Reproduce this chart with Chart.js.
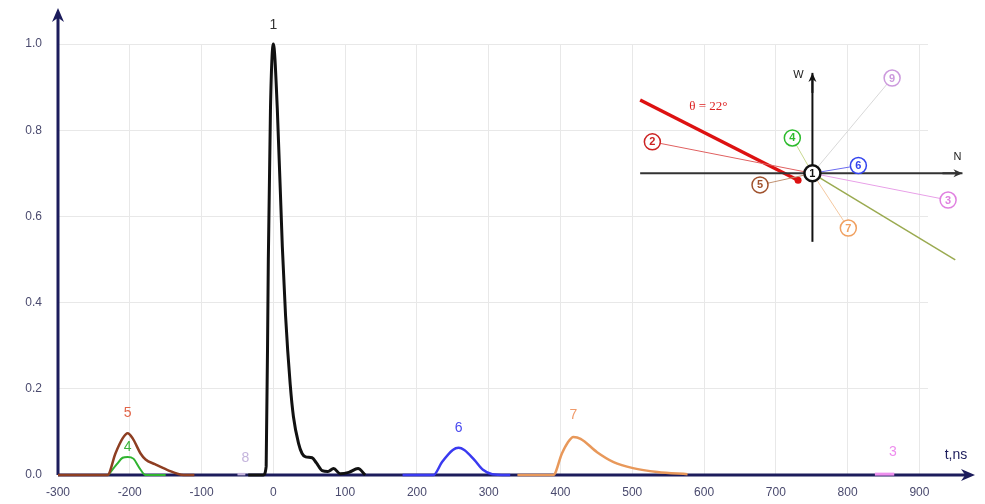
<!DOCTYPE html>
<html>
<head>
<meta charset="utf-8">
<script src="https://cdn.jsdelivr.net/npm/chart.js@4/dist/chart.umd.min.js"></script>
<style>
  html, body { margin: 0; padding: 0; background: #fff; }
  #wrap { width: 985px; height: 504px; }
</style>
</head>
<body>
<div id="wrap"><canvas id="chart"></canvas></div>
<script>
// --- tick values ---
const xTicks = [-300, -200, -100, 0, 100, 200, 300, 400, 500, 600, 700, 800, 900];
const yTicks = [0, 0.2, 0.4, 0.6, 0.8, 1.0];

// --- pulses (t in ns, normalised amplitude) ---
const pulse1T = [-35, -14, -10, -7, -4, 0, 5.5, 12.5, 17, 23.5, 28, 35, 40, 45, 54, 60, 68, 76, 84, 93, 105, 118, 128];
const pulse1V = [0, 0, 0.02, 0.5, 0.85, 1.0, 0.85, 0.53, 0.37, 0.21, 0.135, 0.074, 0.05, 0.042, 0.04, 0.028, 0.01, 0.008, 0.015, 0.003, 0.006, 0.015, 0];

const pulse5T = [-300, -231, -220, -210, -203, -196, -185, -178, -165, -148, -125, -110];
const pulse5V = [0, 0, 0.05, 0.085, 0.097, 0.085, 0.05, 0.036, 0.025, 0.012, 0, 0];

const pulse4T = [-230, -218, -210, -203, -195, -186, -178, -150];
const pulse4V = [0, 0.025, 0.04, 0.042, 0.038, 0.015, 0, 0];

const pulse8T = [-50, -39];
const pulse8V = [0.002, 0.002];

const pulse6T = [180, 223, 235, 250, 258, 266, 280, 292, 305, 330];
const pulse6V = [0, 0, 0.03, 0.058, 0.063, 0.058, 0.035, 0.012, 0.002, 0];

const pulse7T = [340, 390, 402, 410, 418, 428, 451, 474, 501, 535, 577];
const pulse7V = [0, 0, 0.05, 0.075, 0.088, 0.084, 0.053, 0.03, 0.016, 0.007, 0.002];

const pulse3T = [838, 865];
const pulse3V = [0.002, 0.002];

// --- peak labels ---
const peakNames = ['1', '5', '4', '8', '6', '7', '3'];
const peakLabelT = [0, -203, -203, -39, 258, 418, 863];
const peakLabelV = [1.044, 0.144, 0.065, 0.039, 0.109, 0.139, 0.053];
const peakColors = ['#333333', '#e2664a', '#3cb43c', '#c4b4dc', '#4a4af0', '#f09a6a', '#ee8cee'];

// --- inset bearing diagram, placed in the chart's own units ---
const compassT = 751, compassV = 0.70;
const compassAxisT = [511, 960];
const compassAxisV = [0.541, 0.933];
const bearingT = [511, 731];
const bearingV = [0.870, 0.684];
const trendT = [751, 950];
const trendV = [0.70, 0.499];
const stationNames = ['2', '4', '5', '6', '9', '3', '7'];
const stationT = [528, 723, 678, 815, 862, 940, 801];
const stationV = [0.773, 0.782, 0.673, 0.718, 0.921, 0.638, 0.573];
const stationColors = ['#cc2222', '#2dbb2d', '#a0522d', '#3344ee', '#cc99dd', '#e080e0', '#f0a060'];
const stationLineColors = ['#e06060', '#c8d890', '#c09070', '#6a6af0', '#d8d8d8', '#e8a0e8', '#f4c8a0'];

function pts(ts, vs) {
    return ts.map((t, i) => ({ x: t, y: vs[i] }));
}

function curve(ts, vs, color, width) {
    return {
        data: pts(ts, vs),
        borderColor: color,
        borderWidth: width,
        pointRadius: 0,
        cubicInterpolationMode: 'monotone',
        fill: false
    };
}

const datasets = [];

// compass spokes (behind everything in the inset)
stationNames.forEach((name, i) => {
    datasets.push({
        data: [{ x: compassT, y: compassV }, { x: stationT[i], y: stationV[i] }],
        borderColor: stationLineColors[i],
        borderWidth: 1,
        pointRadius: 0
    });
});
datasets.push({
    data: pts(trendT, trendV),
    borderColor: '#9aaa50',
    borderWidth: 1.5,
    pointRadius: 0
});
datasets.push({
    data: [{ x: compassAxisT[0], y: compassV }, { x: compassAxisT[1], y: compassV }],
    borderColor: '#333333',
    borderWidth: 2,
    pointRadius: 0
});
datasets.push({
    data: [{ x: compassT, y: compassAxisV[0] }, { x: compassT, y: compassAxisV[1] }],
    borderColor: '#111111',
    borderWidth: 2,
    pointRadius: 0
});
datasets.push({
    data: pts(bearingT, bearingV),
    borderColor: '#dd1111',
    borderWidth: 3.5,
    pointRadius: [0, 3.5],
    pointBackgroundColor: '#dd1111',
    pointBorderWidth: 0
});

// pulses
datasets.push(curve(pulse5T, pulse5V, '#8e3e22', 2.5));
datasets.push(curve(pulse4T, pulse4V, '#2fb32f', 2));
datasets.push(curve(pulse8T, pulse8V, '#c4b4dc', 2.5));
datasets.push(curve(pulse6T, pulse6V, '#3a3af0', 2.5));
datasets.push(curve(pulse7T, pulse7V, '#e8985a', 2.5));
datasets.push(curve(pulse3T, pulse3V, '#ee90ee', 3));
datasets.push(curve(pulse1T, pulse1V, '#111111', 3));

function arrow(ctx, x1, y1, x2, y2, color, width, len, half) {
    const a = Math.atan2(y2 - y1, x2 - x1);
    ctx.save();
    ctx.strokeStyle = color;
    ctx.fillStyle = color;
    ctx.lineWidth = width;
    ctx.beginPath();
    ctx.moveTo(x1, y1);
    ctx.lineTo(x2 - Math.cos(a) * len * 0.6, y2 - Math.sin(a) * len * 0.6);
    ctx.stroke();
    ctx.beginPath();
    ctx.moveTo(x2, y2);
    ctx.lineTo(x2 - Math.cos(a) * len - Math.sin(a) * half, y2 - Math.sin(a) * len + Math.cos(a) * half);
    ctx.lineTo(x2 - Math.cos(a) * len * 0.7, y2 - Math.sin(a) * len * 0.7);
    ctx.lineTo(x2 - Math.cos(a) * len + Math.sin(a) * half, y2 - Math.sin(a) * len - Math.cos(a) * half);
    ctx.closePath();
    ctx.fill();
    ctx.restore();
}

function ring(ctx, x, y, color, lw, label) {
    ctx.beginPath();
    ctx.arc(x, y, 8, 0, Math.PI * 2);
    ctx.fillStyle = '#ffffff';
    ctx.fill();
    ctx.lineWidth = lw;
    ctx.strokeStyle = color;
    ctx.stroke();
    ctx.fillStyle = color;
    ctx.fillText(label, x, y + 0.5);
}

const decorations = {
    id: 'decorations',
    beforeDatasetsDraw(chart) {
        const { ctx } = chart;
        const x0 = chart.scales.x.getPixelForValue(-300);
        const y0 = chart.scales.y.getPixelForValue(0);
        arrow(ctx, x0, y0, 975, y0, '#1c1c5c', 3, 14, 6);
        arrow(ctx, x0, y0, x0, 8, '#1c1c5c', 3, 14, 6);
        ctx.save();
        ctx.fillStyle = '#1c1c5c';
        ctx.font = '14px "Liberation Sans", Arial, sans-serif';
        ctx.textAlign = 'center';
        ctx.textBaseline = 'middle';
        ctx.fillText('t,ns', 956, 455);
        ctx.restore();
    },
    afterDatasetsDraw(chart) {
        const { ctx } = chart;
        const xs = chart.scales.x, ys = chart.scales.y;
        ctx.save();
        ctx.textAlign = 'center';
        ctx.textBaseline = 'middle';

        // compass arrowheads
        const cx = xs.getPixelForValue(compassT), cy = ys.getPixelForValue(compassV);
        const hx = xs.getPixelForValue(compassAxisT[1]);
        const vy = ys.getPixelForValue(compassAxisV[1]);
        arrow(ctx, hx - 20, cy, hx, cy, '#333333', 2, 9, 4);
        arrow(ctx, cx, vy + 20, cx, vy, '#111111', 2, 9, 4);
        ctx.fillStyle = '#222222';
        ctx.font = '11px "Liberation Sans", Arial, sans-serif';
        ctx.fillText('W', cx - 14, vy + 2);
        ctx.fillText('N', hx - 5, cy - 16);

        // bearing angle
        ctx.fillStyle = '#dd2222';
        ctx.font = '13px "Liberation Serif", serif';
        ctx.fillText('\u03b8 = 22\u00b0', xs.getPixelForValue(606), ys.getPixelForValue(0.854));

        // station circles with their numbers
        ctx.font = 'bold 11px "Liberation Sans", Arial, sans-serif';
        stationNames.forEach((name, i) => {
            ring(ctx, xs.getPixelForValue(stationT[i]), ys.getPixelForValue(stationV[i]), stationColors[i], 1.5, name);
        });
        ring(ctx, cx, cy, '#111111', 2.5, '1');

        // peak numbers
        ctx.font = '14px "Liberation Sans", Arial, sans-serif';
        peakNames.forEach((name, i) => {
            ctx.fillStyle = peakColors[i];
            ctx.fillText(name, xs.getPixelForValue(peakLabelT[i]), ys.getPixelForValue(peakLabelV[i]));
        });
        ctx.restore();
    }
};

new Chart(document.getElementById('chart'), {
    type: 'line',
    data: { datasets: datasets },
    plugins: [decorations],
    options: {
        responsive: true,
        maintainAspectRatio: false,
        animation: false,
        clip: false,
        layout: { padding: { top: 44, right: 57, bottom: 0, left: 0 } },
        plugins: {
            legend: { display: false },
            tooltip: { enabled: false }
        },
        scales: {
            x: {
                type: 'linear',
                min: -300,
                max: 912,
                afterBuildTicks: scale => { scale.ticks = xTicks.map(v => ({ value: v })); },
                afterFit: scale => { scale.height = 29; },
                border: { display: false },
                grid: { color: '#e8e8e8', lineWidth: 1, drawTicks: false },
                ticks: {
                    padding: 10,
                    color: '#4a4a6e',
                    font: { family: '"Liberation Sans", Arial, sans-serif', size: 12 },
                    maxRotation: 0
                }
            },
            y: {
                type: 'linear',
                min: 0,
                max: 1.0,
                afterBuildTicks: scale => { scale.ticks = yTicks.map(v => ({ value: v })); },
                afterFit: scale => { scale.width = 58; },
                border: { display: false },
                grid: { color: '#e8e8e8', lineWidth: 1, drawTicks: false },
                ticks: {
                    padding: 16,
                    color: '#4a4a6e',
                    font: { family: '"Liberation Sans", Arial, sans-serif', size: 12 },
                    callback: v => v.toFixed(1)
                }
            }
        }
    }
});
</script>
</body>
</html>
